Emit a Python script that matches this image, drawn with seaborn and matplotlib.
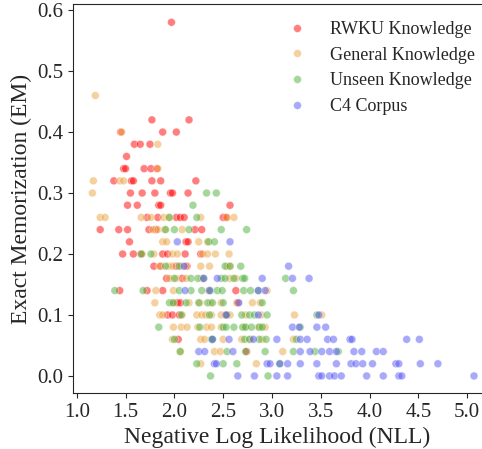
import pandas as pd
import matplotlib
matplotlib.use("Agg")
import matplotlib.pyplot as plt
import seaborn as sns

# NLL / EM pairs, one list pair per source
rwku_nll = [1.97,
            1.77, 2.15,
            1.45, 1.88, 2.02,
            1.59, 1.65, 1.75,
            1.51,
            1.48, 1.50, 1.69, 1.76, 1.82,
            1.38, 1.56, 1.58, 1.77, 1.86, 2.22,
            1.55, 1.67, 1.80, 1.96, 1.98, 2.14,
            1.52, 1.62, 1.84, 1.86, 2.57,
            1.72, 1.83, 2.02, 2.06, 2.10, 2.50, 2.53,
            1.24, 1.43, 1.52, 1.74, 1.81, 2.21, 2.28,
            1.54, 2.12, 2.14,
            1.47, 1.58, 1.66, 1.88, 1.93, 2.11, 2.27,
            1.79, 1.86, 2.02, 2.13,
            1.92, 2.08,
            1.44, 1.72, 1.88, 2.63,
            2.03, 2.06, 2.65,
            1.93, 1.98, 2.05, 2.53,
            2.04,
            2.74]
rwku_em = [0.58,
           0.42, 0.42,
           0.40, 0.40, 0.40,
           0.38, 0.38, 0.38,
           0.36,
           0.34, 0.34, 0.34, 0.34, 0.34,
           0.32, 0.32, 0.32, 0.32, 0.32, 0.32,
           0.30, 0.30, 0.30, 0.30, 0.30, 0.30,
           0.28, 0.28, 0.28, 0.28, 0.28,
           0.26, 0.26, 0.26, 0.26, 0.26, 0.26, 0.26,
           0.24, 0.24, 0.24, 0.24, 0.24, 0.24, 0.24,
           0.22, 0.22, 0.22,
           0.20, 0.20, 0.20, 0.20, 0.20, 0.20, 0.20,
           0.18, 0.18, 0.18, 0.18,
           0.16, 0.16,
           0.14, 0.14, 0.14, 0.14,
           0.12, 0.12, 0.12,
           0.10, 0.10, 0.10, 0.10,
           0.06,
           0.04]

general_nll = [1.19,
               1.46,
               1.83,
               1.83,
               1.17, 1.44, 1.48,
               1.16,
               1.24, 1.29, 1.66, 1.76, 1.89, 1.94, 2.27, 2.54, 2.61,
               1.78, 1.83, 1.90, 2.08,
               1.88, 1.92, 2.25, 2.34,
               1.67, 1.79, 1.98, 2.03, 2.29, 2.34, 2.42, 2.56,
               1.85, 1.94, 1.98, 2.07, 2.12, 2.27, 2.36, 2.54, 2.57,
               1.95, 2.02, 2.12, 2.28, 2.57, 2.63,
               1.81, 1.99, 2.35, 2.95,
               1.80, 1.98, 2.15, 2.26, 2.37, 2.48, 2.64, 2.80, 2.88,
               1.85, 1.88, 2.08, 2.23, 2.28, 2.32, 2.38, 2.48, 2.57, 2.73, 2.89, 3.23, 3.51,
               1.99, 2.07, 2.13, 2.24, 2.33, 2.38, 2.48, 2.72, 2.86, 2.93,
               1.98, 2.27, 2.31, 2.50, 2.69, 2.78, 2.90, 3.22,
               2.06, 2.41, 2.47, 3.11,
               2.27, 2.84]
general_em = [0.46,
              0.40,
              0.38,
              0.34,
              0.32, 0.32, 0.32,
              0.30,
              0.26, 0.26, 0.26, 0.26, 0.26, 0.26, 0.26, 0.26, 0.26,
              0.24, 0.24, 0.24, 0.24,
              0.22, 0.22, 0.22, 0.22,
              0.20, 0.20, 0.20, 0.20, 0.20, 0.20, 0.20, 0.20,
              0.18, 0.18, 0.18, 0.18, 0.18, 0.18, 0.18, 0.18, 0.18,
              0.16, 0.16, 0.16, 0.16, 0.16, 0.16,
              0.14, 0.14, 0.14, 0.14,
              0.12, 0.12, 0.12, 0.12, 0.12, 0.12, 0.12, 0.12, 0.12,
              0.10, 0.10, 0.10, 0.10, 0.10, 0.10, 0.10, 0.10, 0.10, 0.10, 0.10, 0.10, 0.10,
              0.08, 0.08, 0.08, 0.08, 0.08, 0.08, 0.08, 0.08, 0.08, 0.08,
              0.06, 0.06, 0.06, 0.06, 0.06, 0.06, 0.06, 0.06,
              0.04, 0.04, 0.04, 0.04,
              0.02, 0.02]

unseen_nll = [2.33, 2.43,
              2.19,
              1.95, 2.23,
              1.91, 2.00, 2.15, 2.48, 2.74,
              2.35, 2.41,
              1.66, 1.76,
              1.91, 2.05, 2.52, 2.57, 2.68,
              2.00, 2.17, 2.24, 2.30, 2.48, 2.52, 2.61, 2.70, 2.72, 3.14,
              1.39, 1.68, 2.05, 2.17, 2.28, 2.37, 2.44, 2.49, 2.71, 2.78, 2.86, 3.22,
              1.95, 1.99, 2.12, 2.25, 2.34, 2.39, 2.50, 2.90,
              2.07, 2.36, 2.54, 2.69, 2.77, 2.82, 2.95, 3.46,
              1.84, 2.26, 2.50, 2.53, 2.61, 2.70, 2.73, 2.79, 2.87, 2.90, 3.29,
              2.00, 2.38, 2.39, 2.72, 2.77, 2.87, 2.94, 3.25,
              2.06, 2.54, 2.73, 2.93, 3.22, 3.44, 3.68,
              2.23, 2.50, 2.64, 3.08,
              2.37, 2.96]
unseen_em = [0.30, 0.30,
             0.28,
             0.26, 0.26,
             0.24, 0.24, 0.24, 0.24, 0.24,
             0.22, 0.22,
             0.20, 0.20,
             0.18, 0.18, 0.18, 0.18, 0.18,
             0.16, 0.16, 0.16, 0.16, 0.16, 0.16, 0.16, 0.16, 0.16, 0.16,
             0.14, 0.14, 0.14, 0.14, 0.14, 0.14, 0.14, 0.14, 0.14, 0.14, 0.14, 0.14,
             0.12, 0.12, 0.12, 0.12, 0.12, 0.12, 0.12, 0.12,
             0.10, 0.10, 0.10, 0.10, 0.10, 0.10, 0.10, 0.10,
             0.08, 0.08, 0.08, 0.08, 0.08, 0.08, 0.08, 0.08, 0.08, 0.08, 0.08,
             0.06, 0.06, 0.06, 0.06, 0.06, 0.06, 0.06, 0.06,
             0.04, 0.04, 0.04, 0.04, 0.04, 0.04, 0.04,
             0.02, 0.02, 0.02, 0.02,
             0.00, 0.00]

c4_nll = [2.03, 2.57,
          2.10, 3.17,
          2.30, 2.44, 2.90, 3.21, 3.38,
          2.11, 2.36, 2.86, 2.93,
          2.66,
          2.53, 2.86, 3.48,
          3.21, 3.28, 3.46, 3.55,
          2.39, 2.56, 2.81, 3.05, 3.29, 3.36, 3.57, 3.63, 3.80, 3.82, 4.38, 4.51,
          2.25, 2.31, 2.60, 3.29, 3.39, 3.51, 3.59, 3.66, 3.84, 3.92, 4.07, 4.14,
          2.41, 2.43, 2.95, 2.98, 3.08, 3.16, 3.29, 3.46, 3.66, 3.81, 3.86, 3.93, 4.03, 4.27, 4.30, 4.52, 4.70,
          2.65, 2.82, 3.05, 3.16, 3.48, 3.51, 3.59, 3.64, 3.71, 3.97, 4.14, 4.30, 4.33, 5.07]
c4_em = [0.22, 0.22,
         0.18, 0.18,
         0.16, 0.16, 0.16, 0.16, 0.16,
         0.14, 0.14, 0.14, 0.14,
         0.12,
         0.10, 0.10, 0.10,
         0.08, 0.08, 0.08, 0.08,
         0.06, 0.06, 0.06, 0.06, 0.06, 0.06, 0.06, 0.06, 0.06, 0.06, 0.06, 0.06,
         0.04, 0.04, 0.04, 0.04, 0.04, 0.04, 0.04, 0.04, 0.04, 0.04, 0.04, 0.04,
         0.02, 0.02, 0.02, 0.02, 0.02, 0.02, 0.02, 0.02, 0.02, 0.02, 0.02, 0.02, 0.02, 0.02, 0.02, 0.02, 0.02,
         0.00, 0.00, 0.00, 0.00, 0.00, 0.00, 0.00, 0.00, 0.00, 0.00, 0.00, 0.00, 0.00, 0.00]

labels = ['RWKU Knowledge', 'General Knowledge', 'Unseen Knowledge', 'C4 Corpus']
colors = ['#ff0000', '#eba541', '#4caf3a', '#5555f5']

frames = []
for lab, xs, ys in zip(labels,
                       [rwku_nll, general_nll, unseen_nll, c4_nll],
                       [rwku_em, general_em, unseen_em, c4_em]):
    frames.append(pd.DataFrame({'NLL': xs, 'EM': ys, 'source': lab}))
df = pd.concat(frames, ignore_index=True)

sns.set_style('ticks')
plt.rcParams['font.family'] = ['Liberation Serif', 'DejaVu Serif']

fig, ax = plt.subplots(figsize=(4.82, 4.49), dpi=100)
fig.subplots_adjust(left=0.152, right=0.999, bottom=0.1247, top=0.991)

sns.scatterplot(data=df, x='NLL', y='EM', hue='source', hue_order=labels,
                palette=dict(zip(labels, colors)), alpha=0.5, s=32,
                edgecolor='white', linewidth=0.5, ax=ax)

ax.set_xlim(0.964, 5.147)
ax.set_ylim(-0.028, 0.61)
ax.set_xticks([1.0, 1.5, 2.0, 2.5, 3.0, 3.5, 4.0, 4.5, 5.0])
ax.set_yticks([0.0, 0.1, 0.2, 0.3, 0.4, 0.5, 0.6])
ax.tick_params(labelsize=15)
ax.set_xlabel('Negative Log Likelihood (NLL)', fontsize=17)
ax.set_ylabel('Exact Memorization (EM)', fontsize=17)
ax.spines['top'].set_visible(True)
ax.spines['right'].set_visible(False)

handles, labs = ax.get_legend_handles_labels()
ax.legend(handles, labs, frameon=False, loc='upper right',
          bbox_to_anchor=(1.004, 0.977), fontsize=13,
          handletextpad=0.85, labelspacing=0.48, borderaxespad=0.05)

fig.savefig('out.png', dpi=100)
